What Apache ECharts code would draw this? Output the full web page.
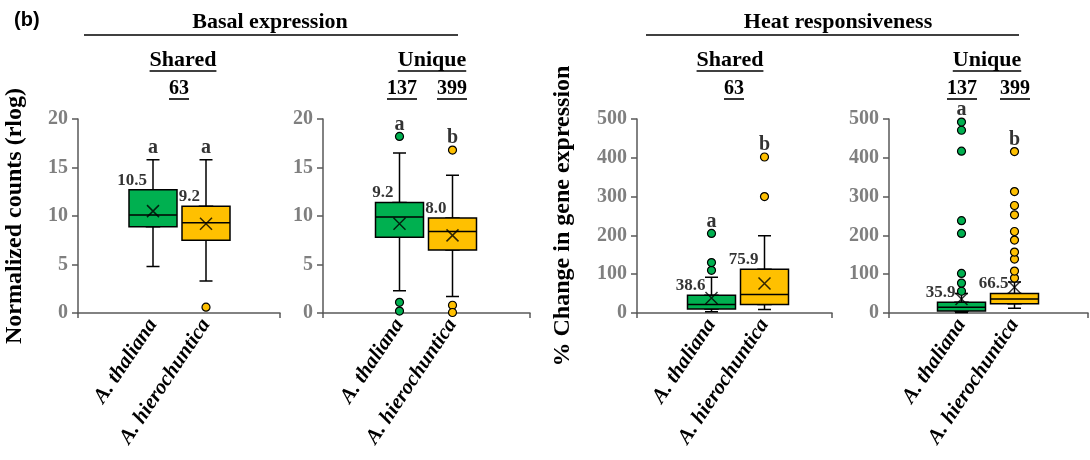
<!DOCTYPE html>
<html>
<head>
<meta charset="utf-8">
<script src="https://cdn.jsdelivr.net/npm/echarts@6/dist/echarts.min.js"></script>
<style>
  html, body { margin: 0; padding: 0; background: #fff; }
  #chart { width: 1090px; height: 460px; }
</style>
</head>
<body>
<div id="chart"></div>
<script>
// categorias
const species = ['A. thaliana', 'A. hierochuntica'];
const colors = ['#00B050', '#FFC000'];

// cajas: [bigote inf, Q1, mediana, Q3, bigote sup] por especie
const basalSharedBox = [[4.8, 8.9, 10.1, 12.7, 15.8], [3.3, 7.5, 9.3, 11.0, 15.8]];
const basalSharedMean = [10.5, 9.2];
const basalSharedOut = [[], [0.6]];
const basalSharedSig = ['a', 'a'];

const basalUniqueBox = [[2.3, 7.8, 9.9, 11.4, 16.5], [1.7, 6.5, 8.4, 9.8, 14.2]];
const basalUniqueMean = [9.2, 8.0];
const basalUniqueOut = [[18.2, 1.1, 0.2], [16.8, 0.8, 0.05]];
const basalUniqueSig = ['a', 'b'];

const heatSharedBox = [[3, 10, 22, 46, 92], [9, 22, 48, 113, 199]];
const heatSharedMean = [38.6, 75.9];
const heatSharedOut = [[110, 130, 205], [300, 402]];
const heatSharedSig = ['a', 'b'];

const heatUniqueBox = [[1, 5, 15, 28, 50], [12, 24, 36, 50, 80]];
const heatUniqueMean = [35.9, 66.5];
const heatUniqueOut = [[56, 77, 102, 205, 238, 417, 471, 492], [90, 108, 139, 157, 188, 210, 253, 277, 313, 416]];
const heatUniqueSig = ['a', 'b'];

// ticks del eje y
const basalTicks = [0, 5, 10, 15, 20];
const heatTicks = [0, 100, 200, 300, 400, 500];

// numero de genes por grupo
const sharedN = ['63'];
const uniqueN = ['137', '399'];

const serif = '"Liberation Serif", "Times New Roman", serif';
const axisCol = '#595959';
const TOP = 119, BOTTOM = 147;

const panels = [
    { box: basalSharedBox, mean: basalSharedMean, out: basalSharedOut, sig: basalSharedSig, ticks: basalTicks,
      frameL: 78, frameW: 202, center: 179.5, name: 'Normalized counts (rlog)', nameGap: 51 },
    { box: basalUniqueBox, mean: basalUniqueMean, out: basalUniqueOut, sig: basalUniqueSig, ticks: basalTicks,
      frameL: 323, frameW: 207, center: 426 },
    { box: heatSharedBox, mean: heatSharedMean, out: heatSharedOut, sig: heatSharedSig, ticks: heatTicks,
      frameL: 637, frameW: 195, center: 738, name: '% Change in gene expression', nameGap: 62 },
    { box: heatUniqueBox, mean: heatUniqueMean, out: heatUniqueOut, sig: heatUniqueSig, ticks: heatTicks,
      frameL: 889, frameW: 199, center: 988 }
];

const grid = [], xAxis = [], yAxis = [], series = [];

panels.forEach(p => {
    const min = p.ticks[0], max = p.ticks[p.ticks.length - 1], interval = p.ticks[1] - p.ticks[0];
    const g = grid.length;
    grid.push({ left: p.frameL, width: p.frameW, top: TOP, bottom: BOTTOM });
    grid.push({ left: p.center - 53, width: 106, top: TOP, bottom: BOTTOM });

    // marco: ejes visibles
    xAxis.push({
        gridIndex: g, type: 'category', data: [''],
        axisLine: { lineStyle: { color: axisCol, width: 1.5 } },
        axisTick: { show: true, length: 5, lineStyle: { color: axisCol, width: 1.5 } },
        axisLabel: { show: false }
    });
    yAxis.push({
        gridIndex: g, type: 'value', min: min, max: max, interval: interval,
        axisLine: { show: true, lineStyle: { color: axisCol, width: 1.5 } },
        axisTick: { show: true, length: 6, lineStyle: { color: axisCol, width: 1.5 } },
        splitLine: { show: false },
        axisLabel: { margin: 10, color: '#7F7F7F', fontFamily: serif, fontWeight: 'bold', fontSize: 20 },
        name: p.name || '', nameLocation: 'middle', nameGap: p.nameGap || 0,
        nameTextStyle: { fontFamily: serif, fontWeight: 'bold', fontSize: 24, color: '#000' }
    });

    // ejes de datos
    const xi = xAxis.length;
    xAxis.push({
        gridIndex: g + 1, type: 'category', data: species,
        axisLine: { show: false }, axisTick: { show: false },
        axisLabel: { interval: 0, rotate: 56, margin: 8, color: '#000', fontFamily: serif,
                     fontWeight: 'bold', fontStyle: 'italic', fontSize: 21 }
    });
    xAxis.push({ gridIndex: g + 1, type: 'category', data: species, show: false });
    const yi = yAxis.length;
    yAxis.push({ gridIndex: g + 1, type: 'value', min: min, max: max, show: false });

    // bigotes (angostos)
    series.push({
        type: 'boxplot', xAxisIndex: xi + 1, yAxisIndex: yi, boxWidth: [13, 13], silent: true,
        itemStyle: { color: '#fff', borderColor: '#000', borderWidth: 1.5 },
        data: p.box.map(b => b)
    });
    // cajas
    series.push({
        type: 'boxplot', xAxisIndex: xi, yAxisIndex: yi, boxWidth: [48, 48], silent: true,
        itemStyle: { borderColor: '#000', borderWidth: 1.5 },
        data: p.box.map((b, k) => ({ value: [b[1], b[1], b[2], b[3], b[3]], itemStyle: { color: colors[k] } }))
    });
    // outliers
    const outData = [];
    p.out.forEach((arr, k) => arr.forEach(v => outData.push({ value: [species[k], v], itemStyle: { color: colors[k] } })));
    series.push({
        type: 'scatter', xAxisIndex: xi, yAxisIndex: yi, symbolSize: 8, silent: true,
        itemStyle: { borderColor: '#000', borderWidth: 1.2, opacity: 1 },
        data: outData
    });
    // media (X)
    series.push({
        type: 'scatter', xAxisIndex: xi, yAxisIndex: yi, silent: true,
        symbol: 'path://M0,0L10,10M10,0L0,10', symbolSize: 12,
        itemStyle: { color: 'none', borderColor: '#000', borderWidth: 1.5 },
        data: p.mean.map((v, k) => [species[k], v])
    });
    // etiqueta de la media
    const mean = p.mean;
    series.push({
        type: 'scatter', xAxisIndex: xi, yAxisIndex: yi, symbolSize: 0, silent: true,
        label: { show: true, position: 'top', distance: 1, align: 'right', offset: [-6, 0],
                 formatter: q => mean[q.dataIndex].toFixed(1),
                 fontFamily: serif, fontWeight: 'bold', fontSize: 17, color: '#000' },
        data: p.box.map((b, k) => [species[k], b[3]])
    });
    // letras de significancia
    const sig = p.sig;
    series.push({
        type: 'scatter', xAxisIndex: xi, yAxisIndex: yi, symbolSize: 0, silent: true,
        label: { show: true, position: 'top', distance: 2, formatter: q => sig[q.dataIndex],
                 fontFamily: serif, fontWeight: 'bold', fontSize: 20, color: '#000' },
        data: p.box.map((b, k) => [species[k], Math.max(b[4], ...p.out[k])])
    });
});

// titulos con subrayado
const ctx = document.createElement('canvas').getContext('2d');
const graphic = [];
function headText(text, cx, cy, size, underline) {
    const font = 'bold ' + size + 'px ' + serif;
    graphic.push({ type: 'text', x: cx, y: cy,
        style: { text: text, font: font, fill: '#000', textAlign: 'center', textVerticalAlign: 'middle' } });
    if (underline) {
        ctx.font = font;
        const w = ctx.measureText(text).width;
        graphic.push({ type: 'line', shape: { x1: cx - w / 2, y1: cy + size * 0.5, x2: cx + w / 2, y2: cy + size * 0.5 },
            style: { stroke: '#000', lineWidth: 1.6 } });
    }
}
graphic.push({ type: 'text', x: 14, y: 10,
    style: { text: '(b)', font: 'bold 20px "Liberation Sans", Arial, sans-serif', fill: '#000' } });
headText('Basal expression', 270, 22, 22, false);
graphic.push({ type: 'line', shape: { x1: 84, y1: 35, x2: 458, y2: 35 }, style: { stroke: '#000', lineWidth: 1.6 } });
headText('Heat responsiveness', 838, 22, 22, false);
graphic.push({ type: 'line', shape: { x1: 646, y1: 35, x2: 1019, y2: 35 }, style: { stroke: '#000', lineWidth: 1.6 } });

headText('Shared', 183, 60, 22, true);
headText(sharedN[0], 179, 89, 20, true);
headText('Unique', 432, 60, 22, true);
headText(uniqueN[0], 402, 89, 20, true);
headText(uniqueN[1], 452, 89, 20, true);
headText('Shared', 730, 60, 22, true);
headText(sharedN[0], 734, 89, 20, true);
headText('Unique', 987, 60, 22, true);
headText(uniqueN[0], 962, 89, 20, true);
headText(uniqueN[1], 1015, 89, 20, true);

const chart = echarts.init(document.getElementById('chart'));
chart.setOption({
    animation: false,
    backgroundColor: '#fff',
    grid: grid,
    xAxis: xAxis,
    yAxis: yAxis,
    series: series,
    graphic: graphic
});
</script>
</body>
</html>
